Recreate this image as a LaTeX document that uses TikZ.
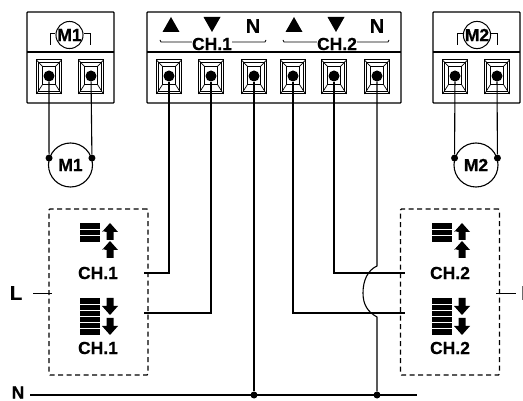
\documentclass[tikz,border=0pt]{standalone}
\usepackage{fontspec}
\setmainfont{Liberation Sans}[BoldFeatures={FakeBold=0.5}]
\usetikzlibrary{positioning,calc}

\tikzset{
    wire/.style={line width=1.1pt},
    lab/.style={font=\fontsize{17.5}{19}\selectfont\bfseries, inner sep=0pt},
    biglab/.style={font=\fontsize{20}{22}\selectfont\bfseries, inner sep=0pt},
    housing/.style={draw, line width=1.2pt, rounded corners=0.8pt, anchor=north west, inner sep=0pt},
    dot/.style={circle, fill, inner sep=0pt, minimum size=7pt},
    clamp/.style={circle, fill, inner sep=0pt, minimum size=11pt},
    motor/.style={circle, draw, line width=1.1pt, inner sep=0pt, minimum size=44pt, lab},
    minimotor/.style={circle, draw, line width=1pt, inner sep=0pt, minimum size=27pt, lab},
    dashbox/.style={draw, line width=1.1pt, dash pattern=on 5pt off 3.5pt, rounded corners=1pt, inner sep=0pt, minimum width=99pt, minimum height=166pt},
    pics/terminal/.style={code={
        \draw[line width=1pt] (-12.5,-17) rectangle (12.5,17);
        \draw[line width=0.8pt] (-10.5,-14.5) rectangle (10.5,14.5);
        \draw[line width=0.9pt] (-6.5,-10.5) rectangle (6.5,7.5);
        \draw[line width=0.7pt] (-12.5,-17) -- (-6.5,-10.5) (12.5,-17) -- (6.5,-10.5)
            (-12.5,17) -- (-6.5,7.5) (12.5,17) -- (6.5,7.5);
    }},
    pics/arrowup/.style={code={
        \fill (-8,8) -- (-8,9) -- (0,0) -- (8,9) -- (3.5,9) -- (3.5,17) -- (-3.5,17) -- (-3.5,9) -- cycle;
    }},
    pics/arrowdown/.style={code={
        \fill (-3.5,0) -- (3.5,0) -- (3.5,8) -- (8,8) -- (0,17) -- (-8,8) -- (-3.5,8) -- cycle;
    }},
    pics/stack/.style={code={
        \fill (0,0) rectangle (20,#1);
        \foreach \k in {6,12,...,\numexpr#1-2\relax}
            \draw[white, line width=0.3pt] (0,\k) -- (20,\k);
    }},
}

\begin{document}
\begin{tikzpicture}[x=1pt, y=-1pt]
    \useasboundingbox (0,0) rectangle (523,401);

    % Housings
    \draw[housing] (27,12) rectangle (114,103);
    \draw[wire] (27,52) -- (114,52);
    \draw[housing] (147,12) rectangle (401,103);
    \draw[wire] (147,52) -- (401,52);
    \draw[housing] (433,12) rectangle (520,103);
    \draw[wire] (433,52) -- (520,52);

    % Terminals
    \foreach \tname/\tx in {ta/49, tb/91, c1/169, c2/211, c3/254, c4/293, c5/334, c6/377, td/455, te/497} {
        \pic at (\tx,77) {terminal};
        \node[clamp] (\tname) at (\tx,76) {};
    }

    % Symbols on the housings
    \foreach \sx in {171, 294}
        \fill (\sx-8.5,32) -- (\sx+8.5,32) -- (\sx,17) -- cycle;
    \foreach \sx in {212, 336}
        \fill (\sx-8.5,17) -- (\sx+8.5,17) -- (\sx,32) -- cycle;
    \node[biglab] (n1) at (253,26) {N};
    \node[biglab] (n2) at (377,26) {N};
    \node[lab] (ch1) at (212,44) {CH.1};
    \node[lab] (ch2) at (337,44) {CH.2};
    \draw[line width=0.8pt] (160,40) -- (161,42) -- (ch1.west |- 0,42) (ch1.east |- 0,42) -- (265,42) -- (266,40);
    \draw[line width=0.8pt] (283,40) -- (284,42) -- (ch2.west |- 0,42) (ch2.east |- 0,42) -- (388,42) -- (389,40);

    \node[minimotor] (s1) at (69.5,35) {M1};
    \draw[line width=0.8pt] (50,45) -- (50,33) -- (s1.west |- 0,33) (s1.east |- 0,33) -- (90,33) -- (90,45);
    \node[minimotor] (s2) at (477,35) {M2};
    \draw[line width=0.8pt] (457,45) -- (457,33) -- (s2.west |- 0,33) (s2.east |- 0,33) -- (497,33) -- (497,45);

    % Motors
    \node[motor] (m1) at (70.5,165) {M1};
    \node[dot] (m1a) at (m1.162) {};
    \node[dot] (m1b) at (m1.18) {};
    \draw[wire] (ta) -- (m1a);
    \draw[wire] (tb) -- (m1b);
    \node[motor] (m2) at (476,165) {M2};
    \node[dot] (m2a) at (m2.162) {};
    \node[dot] (m2b) at (m2.18) {};
    \draw[wire] (td) -- (m2a);
    \draw[wire] (te) -- (m2b);

    % Push buttons
    \node[dashbox] (sw1) at (98.5,292) {};
    \pic at (80,223) {stack=19};
    \pic at (110,223) {arrowup};
    \pic at (110,241) {arrowup};
    \node[lab] (up1) at (98,273) {CH.1};
    \pic at (80,298) {stack=37};
    \pic at (110,298) {arrowdown};
    \pic at (110,318) {arrowdown};
    \node[lab] (dn1) at (98,348) {CH.1};

    \node[dashbox] (sw2) at (450,292) {};
    \pic at (432,223) {stack=19};
    \pic at (462,223) {arrowup};
    \pic at (462,241) {arrowup};
    \node[lab] (up2) at (450,273) {CH.2};
    \pic at (432,298) {stack=37};
    \pic at (462,298) {arrowdown};
    \pic at (462,318) {arrowdown};
    \node[lab] (dn2) at (450,348) {CH.2};

    % Supply
    \node[biglab] (l1) at (16,293) {L};
    \node[biglab] (l2) at (527.5,293) {L};
    \node[lab] (nn) at (18,392.5) {N};
    \coordinate (la) at (52,293);
    \coordinate (lb) at (496,293);
    \coordinate (nend) at (417,395);
    \draw[line width=0.9pt] (33,293) -- (la);
    \draw[line width=0.9pt] (lb) -- (516,293);
    \draw[wire] (30,395) -- (nend);
    \node[dot] (j1) at (254,395) {};
    \node[dot] (j2) at (377,395) {};

    % Wiring
    \coordinate (o1) at (144,273);
    \coordinate (o2) at (144,313);
    \coordinate (i1) at (405,273);
    \coordinate (i2) at (405,313);
    \coordinate (hop1) at (377,266);
    \coordinate (hop2) at (377,317);
    \draw[wire] (o1) -| (c1);
    \draw[wire] (o2) -| (c2);
    \draw[wire] (c3) -- (j1);
    \draw[wire] (c4) |- (i2);
    \draw[wire] (c5) |- (i1);
    \draw[wire] (c6) -- (hop1) .. controls (368,270) and (363,280) .. (363,293)
        .. controls (363,305) and (368,312) .. (hop2) -- (j2);
\end{tikzpicture}
\end{document}
